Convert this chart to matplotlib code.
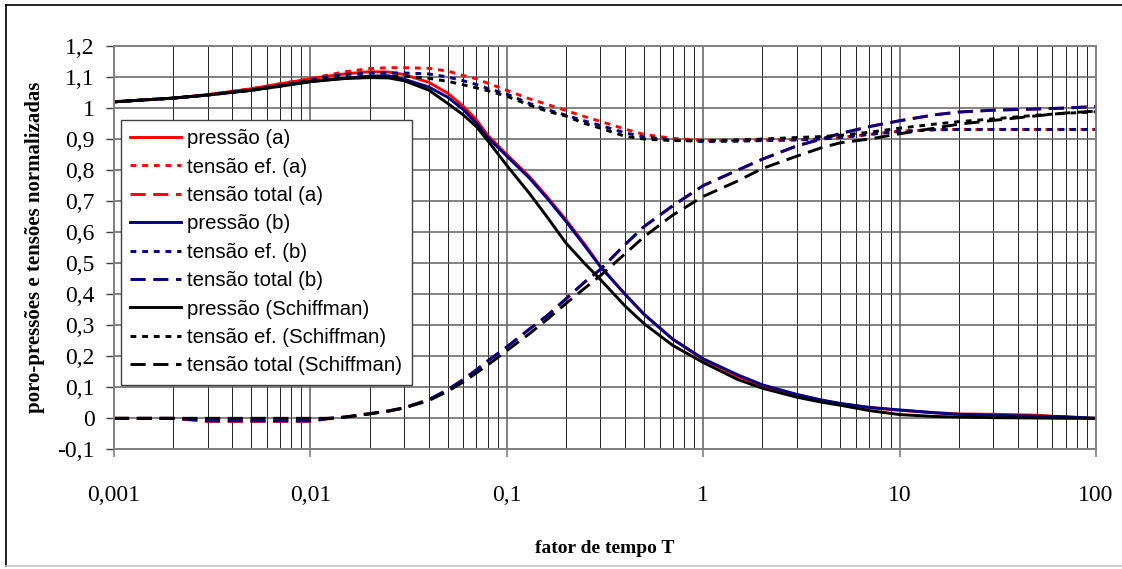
import numpy as np
import matplotlib
matplotlib.use('Agg')
import matplotlib.pyplot as plt
from matplotlib.lines import Line2D
from matplotlib.ticker import FixedLocator, NullFormatter

# fator de tempo T (eixo x, escala log)
T = [0.001, 0.002, 0.003, 0.005, 0.007, 0.01, 0.012, 0.015, 0.02, 0.025,
     0.03, 0.04, 0.05, 0.06, 0.07, 0.08, 0.1, 0.13, 0.16, 0.2,
     0.25, 0.3, 0.4, 0.5, 0.7, 1, 1.5, 2, 3, 4,
     5, 7, 10, 15, 20, 30, 50, 70, 100]

# caso (a)
pressao_a = [1.02, 1.032, 1.043, 1.062, 1.078, 1.094, 1.102, 1.11, 1.117, 1.116,
             1.108, 1.083, 1.048, 1.006, 0.962, 0.912, 0.85, 0.78, 0.715, 0.64,
             0.56, 0.49, 0.40, 0.335, 0.255, 0.19, 0.135, 0.105, 0.076, 0.058,
             0.047, 0.035, 0.026, 0.018, 0.014, 0.013, 0.01, 0.004, 0.0]
tensao_ef_a = [1.02, 1.032, 1.043, 1.062, 1.078, 1.095, 1.105, 1.117, 1.127, 1.13,
               1.13, 1.128, 1.119, 1.105, 1.094, 1.08, 1.057, 1.03, 1.012, 0.992,
               0.972, 0.957, 0.932, 0.915, 0.902, 0.896, 0.896, 0.897, 0.898, 0.9,
               0.905, 0.915, 0.925, 0.93, 0.931, 0.931, 0.931, 0.931, 0.931]
tensao_tot_a = [0.0, 0.0, -0.01, -0.01, -0.01, -0.01, -0.002, 0.004, 0.015, 0.024,
                0.034, 0.06, 0.092, 0.125, 0.156, 0.185, 0.23, 0.287, 0.33, 0.385,
                0.44, 0.48, 0.56, 0.618, 0.685, 0.75, 0.8, 0.835, 0.878, 0.9,
                0.918, 0.94, 0.959, 0.978, 0.987, 0.993, 0.997, 1.0, 1.005]

# caso (b)
pressao_b = [1.02, 1.032, 1.042, 1.058, 1.072, 1.085, 1.09, 1.096, 1.103, 1.104,
             1.093, 1.068, 1.035, 0.995, 0.952, 0.905, 0.845, 0.775, 0.71, 0.635,
             0.555, 0.488, 0.40, 0.335, 0.255, 0.192, 0.14, 0.108, 0.077, 0.059,
             0.048, 0.035, 0.027, 0.018, 0.013, 0.01, 0.007, 0.005, 0.0]
tensao_ef_b = [1.02, 1.032, 1.042, 1.058, 1.072, 1.09, 1.1, 1.108, 1.113, 1.113,
               1.113, 1.11, 1.1, 1.088, 1.076, 1.063, 1.045, 1.015, 0.995, 0.977,
               0.958, 0.944, 0.92, 0.907, 0.897, 0.892, 0.893, 0.895, 0.897, 0.9,
               0.905, 0.915, 0.925, 0.93, 0.931, 0.931, 0.931, 0.931, 0.931]
tensao_tot_b = [0.0, 0.0, -0.008, -0.008, -0.008, -0.008, -0.002, 0.004, 0.015, 0.024,
                0.034, 0.06, 0.092, 0.125, 0.156, 0.185, 0.23, 0.287, 0.33, 0.385,
                0.44, 0.48, 0.56, 0.618, 0.685, 0.75, 0.8, 0.835, 0.878, 0.9,
                0.918, 0.94, 0.959, 0.978, 0.987, 0.993, 0.997, 1.0, 1.005]

# Schiffman
pressao_s = [1.02, 1.032, 1.042, 1.057, 1.07, 1.085, 1.09, 1.095, 1.098, 1.097,
             1.088, 1.058, 1.015, 0.978, 0.94, 0.895, 0.815, 0.726, 0.65, 0.565,
             0.498, 0.447, 0.362, 0.305, 0.235, 0.18, 0.125, 0.097, 0.068, 0.052,
             0.042, 0.025, 0.012, 0.006, 0.004, 0.002, 0.001, 0.0, 0.0]
tensao_ef_s = [1.02, 1.032, 1.042, 1.057, 1.07, 1.088, 1.093, 1.098, 1.102, 1.103,
               1.103, 1.096, 1.086, 1.075, 1.065, 1.056, 1.038, 1.01, 0.99, 0.974,
               0.95, 0.935, 0.909, 0.9, 0.895, 0.895, 0.897, 0.9, 0.905, 0.908,
               0.912, 0.922, 0.935, 0.948, 0.956, 0.965, 0.977, 0.983, 0.988]
tensao_tot_s = [0.0, 0.0, 0.0, 0.0, 0.0, 0.0, 0.0, 0.004, 0.014, 0.023,
                0.033, 0.057, 0.087, 0.117, 0.146, 0.172, 0.218, 0.272, 0.318, 0.37,
                0.42, 0.46, 0.53, 0.585, 0.655, 0.715, 0.765, 0.805, 0.845, 0.872,
                0.888, 0.9, 0.917, 0.935, 0.948, 0.96, 0.975, 0.984, 0.99]

rotulos = ['pressão (a)', 'tensão ef. (a)', 'tensão total (a)',
           'pressão (b)', 'tensão ef. (b)', 'tensão total (b)',
           'pressão (Schiffman)', 'tensão ef. (Schiffman)', 'tensão total (Schiffman)']

yticks = [-0.1, 0, 0.1, 0.2, 0.3, 0.4, 0.5, 0.6, 0.7, 0.8, 0.9, 1.0, 1.1, 1.2]
ytick_labels = ['-0,1', '0', '0,1', '0,2', '0,3', '0,4', '0,5', '0,6', '0,7',
                '0,8', '0,9', '1', '1,1', '1,2']
xticks = [0.001, 0.01, 0.1, 1, 10, 100]
xtick_labels = ['0,001', '0,01', '0,1', '1', '10', '100']

plt.rcParams['font.family'] = ['Liberation Serif', 'DejaVu Serif']

fig = plt.figure(figsize=(11.22, 5.69), dpi=100)
ax = fig.add_axes([0.1016, 0.2103, 0.8752, 0.7089])

lw = 2.1
pontilhado = (0, (2, 2))
tracejado = (0, (5.2, 2.6))
series = [
    (pressao_a, '#ff0000', '-'), (tensao_ef_a, '#ff0000', pontilhado), (tensao_tot_a, '#ff0000', tracejado),
    (pressao_b, '#000080', '-'), (tensao_ef_b, '#000080', pontilhado), (tensao_tot_b, '#000080', tracejado),
    (pressao_s, '#000000', '-'), (tensao_ef_s, '#000000', pontilhado), (tensao_tot_s, '#000000', tracejado),
]
for (vals, cor, estilo), rot in zip(series, rotulos):
    ax.plot(T, vals, color=cor, linestyle=estilo, linewidth=lw, label=rot)

ax.set_xscale('log')
ax.set_xlim(0.001, 100)
ax.set_ylim(-0.1, 1.2)

ax.xaxis.set_major_locator(FixedLocator(xticks))
ax.set_xticklabels(xtick_labels)
minors = [m * 10.0 ** e for e in range(-3, 2) for m in range(2, 10)]
ax.xaxis.set_minor_locator(FixedLocator(minors))
ax.xaxis.set_minor_formatter(NullFormatter())
ax.set_yticks(yticks)
ax.set_yticklabels(ytick_labels)

ax.grid(True, which='minor', axis='x', color='#202020', linewidth=0.7)
ax.grid(True, which='major', axis='x', color='#808080', linewidth=1.4)
ax.grid(True, which='major', axis='y', color='#606060', linewidth=1.1)
ax.set_axisbelow(True)

ax.tick_params(axis='x', which='major', direction='out', length=6, width=1.2,
               color='#808080', pad=20, labelsize=17)
ax.tick_params(axis='x', which='minor', length=0)
ax.tick_params(axis='y', direction='out', length=6, width=1.0, color='#404040',
               pad=8, labelsize=17)
for s in ax.spines.values():
    s.set_color('#808080')
    s.set_linewidth(1.4)

ax.set_xlabel('fator de tempo T', fontsize=14, fontweight='bold')
ax.xaxis.set_label_coords(0.5, -0.245)
ax.xaxis.label.set_va('center')
ax.set_ylabel('poro-pressões e tensões normalizadas', fontsize=15, fontweight='bold')
ax.yaxis.set_label_coords(-0.0804, 0.5)
ax.yaxis.label.set_va('center')

leg = ax.legend(loc='upper left', bbox_to_anchor=(0.0071, 0.8165), borderaxespad=0,
                prop={'family': 'Liberation Sans', 'size': 14.7}, frameon=True,
                fancybox=False, framealpha=1, edgecolor='#404040',
                handlelength=2.5, handletextpad=0.3, labelspacing=0.46,
                borderpad=0.45)
leg.get_frame().set_linewidth(1.0)

# moldura externa do grafico
fig.add_artist(Line2D([6 / 1122, 6 / 1122], [1 - 5 / 569, 1 - 566 / 569],
                      transform=fig.transFigure, color='black', linewidth=1.2))
fig.add_artist(Line2D([6 / 1122, 1.0], [1 - 5 / 569, 1 - 5 / 569],
                      transform=fig.transFigure, color='black', linewidth=1.2))
fig.add_artist(Line2D([6 / 1122, 1.0], [1 - 566 / 569, 1 - 566 / 569],
                      transform=fig.transFigure, color='#c8c8c8', linewidth=1.2))

fig.savefig('out.png', dpi=100)
